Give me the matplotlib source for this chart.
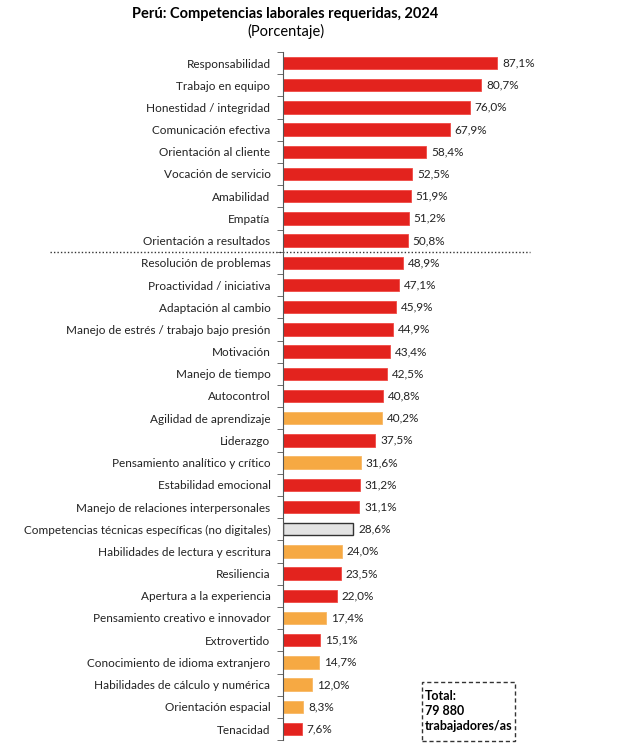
import matplotlib
matplotlib.use('Agg')
import matplotlib.pyplot as plt
from matplotlib.patches import FancyBboxPatch

plt.rcParams['font.family'] = ['Lato', 'DejaVu Sans']

# Data
competencias = [
    'Responsabilidad', 'Trabajo en equipo', 'Honestidad / integridad',
    'Comunicación efectiva', 'Orientación al cliente', 'Vocación de servicio',
    'Amabilidad', 'Empatía', 'Orientación a resultados',
    'Resolución de problemas', 'Proactividad / iniciativa', 'Adaptación al cambio',
    'Manejo de estrés / trabajo bajo presión', 'Motivación', 'Manejo de tiempo',
    'Autocontrol', 'Agilidad de aprendizaje', 'Liderazgo',
    'Pensamiento analítico y crítico', 'Estabilidad emocional',
    'Manejo de relaciones interpersonales',
    'Competencias técnicas específicas (no digitales)',
    'Habilidades de lectura y escritura', 'Resiliencia', 'Apertura a la experiencia',
    'Pensamiento creativo e innovador', 'Extrovertido',
    'Conocimiento de idioma extranjero', 'Habilidades de cálculo y numérica',
    'Orientación espacial', 'Tenacidad',
]
porcentajes = [87.1, 80.7, 76.0, 67.9, 58.4, 52.5, 51.9, 51.2, 50.8,
               48.9, 47.1, 45.9, 44.9, 43.4, 42.5, 40.8, 40.2, 37.5,
               31.6, 31.2, 31.1, 28.6, 24.0, 23.5, 22.0, 17.4, 15.1,
               14.7, 12.0, 8.3, 7.6]
# 'r' = socioemocional, 'o' = cognitiva, 'g' = técnica
tipo = ['r'] * 16 + ['o', 'r', 'o', 'r', 'r', 'g', 'o', 'r', 'r', 'o', 'r', 'o', 'o', 'o', 'r']

fill = {'r': '#E3231E', 'o': '#F6A943', 'g': '#E3E3E3'}
edge = {'r': '#F04A44', 'o': '#F8B865', 'g': '#333333'}

n = len(competencias)
fig = plt.figure(figsize=(6.4, 7.47), dpi=100)
top = 1 - 51.9 / 747
bottom = 1 - 740.1 / 747
ax = fig.add_axes([283 / 640, bottom, 245.7 / 640, top - bottom])

ypos = list(range(n))
for y, v, t in zip(ypos, porcentajes, tipo):
    ax.barh(y, v, height=0.56, color=fill[t], edgecolor=edge[t],
            linewidth=1.0 if t == 'g' else 0.6)
    ax.text(v + 2.0, y, f'{v:.1f}'.replace('.', ',') + '%', va='center',
            ha='left', fontsize=8.5, color='#222222')

ax.set_xlim(0, 100)
ax.set_ylim(n - 0.5, -0.5)
ax.set_yticks(ypos)
ax.set_yticklabels(competencias, fontsize=8.5, color='#222222')
ax.tick_params(axis='y', which='major', length=0, pad=9)
ax.set_yticks([i + 0.5 for i in range(-1, n)], minor=True)
ax.tick_params(axis='y', which='minor', length=4, direction='out', color='#555555')
ax.set_xticks([])
for s in ['top', 'right', 'bottom']:
    ax.spines[s].set_visible(False)
ax.spines['left'].set_color('#555555')

# dotted separator
ax.plot([-0.948, 1.005], [8.5, 8.5], transform=ax.get_yaxis_transform(),
        color='#333333', linestyle=(0, (1, 1.5)), linewidth=1.0, clip_on=False)

fig.text(285 / 640, 1 - 14 / 747, 'Perú: Competencias laborales requeridas, 2024',
         ha='center', va='center', fontsize=10.5, fontweight='bold')
fig.text(286 / 640, 1 - 31 / 747, '(Porcentaje)', ha='center', va='center',
         fontsize=10.5)

# total box
box = FancyBboxPatch((422 / 640, 1 - 741 / 747), 93 / 640, 59 / 747,
                     boxstyle='square,pad=0', transform=fig.transFigure,
                     fill=False, edgecolor='#333333', linestyle=(0, (3, 2)),
                     linewidth=1.0)
fig.patches.append(box)
fig.text(425 / 640, 1 - 711 / 747, 'Total:\n79 880\ntrabajadores/as',
         ha='left', va='center', fontsize=9, fontweight='bold',
         linespacing=1.3)

fig.savefig('out.png', dpi=100)
